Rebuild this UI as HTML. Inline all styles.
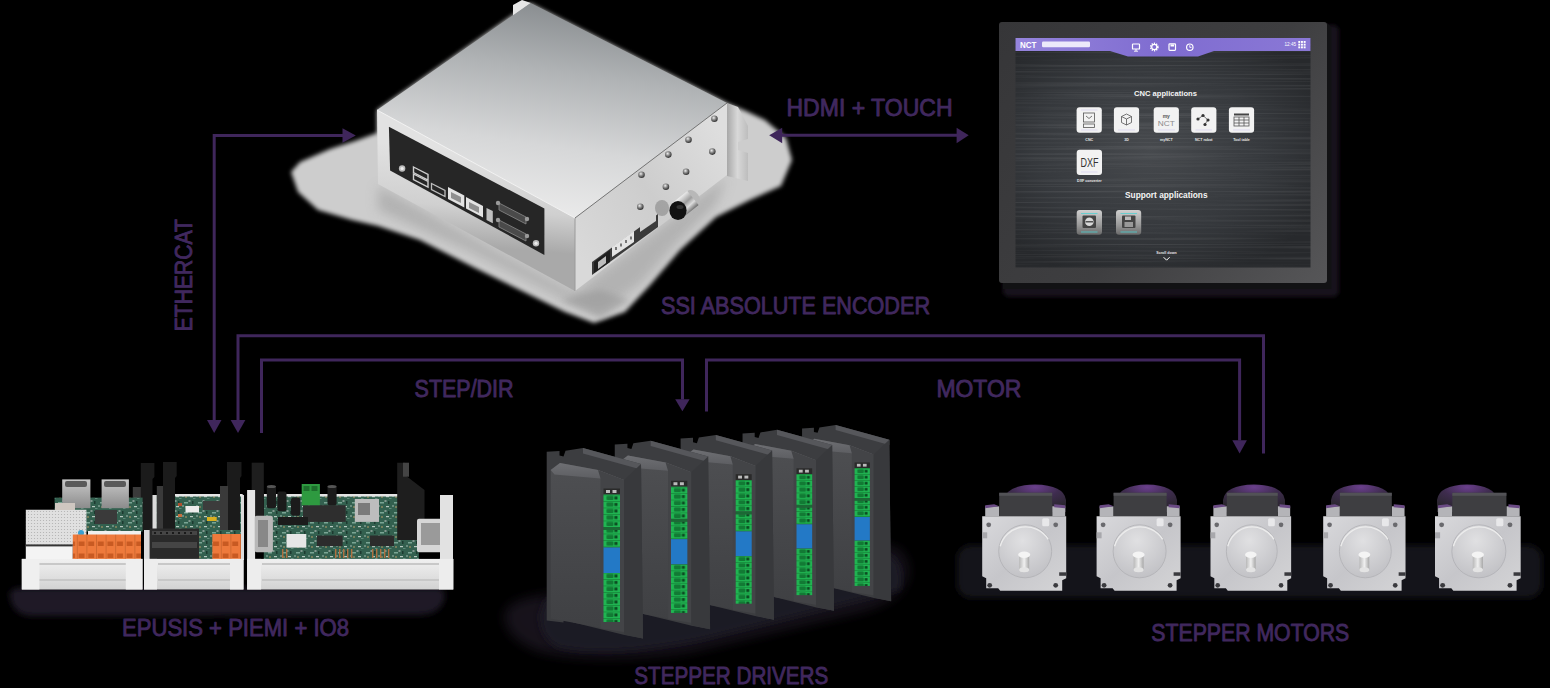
<!DOCTYPE html>
<html><head><meta charset="utf-8">
<style>
html,body{margin:0;padding:0;background:#000;}
body{width:1550px;height:688px;overflow:hidden;}
svg{display:block;}
.lbl{font-family:"Liberation Sans",sans-serif;font-size:23.5px;fill:#40285e;stroke:#40285e;stroke-width:0.9px;stroke-linejoin:round;}
.ln{stroke:#3f265b;stroke-width:3;fill:none;stroke-linecap:butt;}
.ah{fill:#3f265b;}
</style></head>
<body>
<svg width="1550" height="688" viewBox="0 0 1550 688">
<defs>
<linearGradient id="gTop" x1="530" y1="3" x2="500" y2="215" gradientUnits="userSpaceOnUse">
  <stop offset="0" stop-color="#8a8e91"/><stop offset="0.3" stop-color="#b0b3b5"/><stop offset="0.65" stop-color="#d6d7d8"/><stop offset="1" stop-color="#ececec"/></linearGradient>
<linearGradient id="gLeft" x1="470" y1="150" x2="462" y2="245" gradientUnits="userSpaceOnUse">
  <stop offset="0" stop-color="#e2e2e2"/><stop offset="0.6" stop-color="#d0d0d0"/><stop offset="1" stop-color="#a9a9a9"/></linearGradient>
<linearGradient id="gRight" x1="575" y1="250" x2="727" y2="140" gradientUnits="userSpaceOnUse">
  <stop offset="0" stop-color="#d9d9d9"/><stop offset="0.5" stop-color="#cdcdcd"/><stop offset="1" stop-color="#dedede"/></linearGradient>
<linearGradient id="gBr" x1="727" y1="0" x2="748" y2="0" gradientUnits="userSpaceOnUse">
  <stop offset="0" stop-color="#a8a8a8"/><stop offset="0.5" stop-color="#d8d8d8"/><stop offset="1" stop-color="#bdbdbd"/></linearGradient>
<radialGradient id="gScrew" cx="0.4" cy="0.35" r="0.6"><stop offset="0" stop-color="#f0f0f0"/><stop offset="0.5" stop-color="#8a8a8a"/><stop offset="1" stop-color="#3a3a3a"/></radialGradient>
<linearGradient id="gBezel" x1="999" y1="22" x2="1327" y2="283" gradientUnits="userSpaceOnUse">
  <stop offset="0" stop-color="#363638"/><stop offset="0.55" stop-color="#3e3e40"/><stop offset="1" stop-color="#565658"/></linearGradient>
<radialGradient id="gScreen" cx="1150" cy="150" r="190" gradientUnits="userSpaceOnUse" gradientTransform="translate(1150 150) scale(1 0.7) translate(-1150 -150)">
  <stop offset="0" stop-color="#474a4e"/><stop offset="0.6" stop-color="#36393d"/><stop offset="1" stop-color="#27292c"/></radialGradient>
<linearGradient id="gHead" x1="1016" y1="0" x2="1310" y2="0" gradientUnits="userSpaceOnUse">
  <stop offset="0" stop-color="#9584dc"/><stop offset="0.5" stop-color="#7f6cd0"/><stop offset="1" stop-color="#8a78d6"/></linearGradient>
<linearGradient id="gSup" x1="0" y1="0" x2="0" y2="1">
  <stop offset="0" stop-color="#d0d0d0"/><stop offset="0.6" stop-color="#9a9a9a"/><stop offset="1" stop-color="#6a6a6a"/></linearGradient>

<linearGradient id="gBase" x1="0" y1="0" x2="0" y2="1">
  <stop offset="0" stop-color="#f0f0f0"/><stop offset="0.5" stop-color="#e2e2e2"/><stop offset="1" stop-color="#d2d2d2"/></linearGradient>
<linearGradient id="gRJ" x1="0" y1="0" x2="0" y2="1"><stop offset="0" stop-color="#c8c8c8"/><stop offset="1" stop-color="#8c8c8c"/></linearGradient>
<pattern id="pDots" width="3" height="3" patternUnits="userSpaceOnUse"><rect width="3" height="3" fill="#e0e0e0"/><circle cx="1.5" cy="1.5" r="0.6" fill="#b0b0b0"/></pattern>
<pattern id="pOrange" width="9.6" height="12" patternUnits="userSpaceOnUse"><rect width="9.6" height="12" fill="#ee7a3c"/><rect x="1.8" y="1.5" width="6" height="4.5" fill="#c85a22"/><rect x="0" y="0" width="0.7" height="12" fill="#c4622c"/></pattern>
<pattern id="pPcb" width="14" height="10" patternUnits="userSpaceOnUse"><rect width="14" height="10" fill="#33604f"/><rect x="2" y="2" width="4" height="1.5" fill="#7aa594"/><rect x="8" y="6" width="3" height="1.2" fill="#b8c8c0"/><rect x="10" y="1" width="1.5" height="3" fill="#1d3a30"/><circle cx="4" cy="7" r="0.8" fill="#c9a46a"/><rect x="6.5" y="0.5" width="2" height="1" fill="#d0d0d0"/><rect x="0.5" y="5" width="1" height="2" fill="#9fb8ad"/><rect x="11" y="8" width="2.5" height="1" fill="#5f8a7a"/></pattern>
<linearGradient id="gDrvF" x1="0" y1="0" x2="0" y2="1"><stop offset="0" stop-color="#4e4f52"/><stop offset="1" stop-color="#3f4043"/></linearGradient>
<linearGradient id="gDrvTop" x1="0" y1="0" x2="0" y2="1"><stop offset="0" stop-color="#6e6f73"/><stop offset="1" stop-color="#5c5d61"/></linearGradient>
<pattern id="pGreen" width="16.5" height="6.5" patternUnits="userSpaceOnUse"><rect width="16.5" height="6.5" fill="#20b552"/><rect x="0" y="0" width="16.5" height="0.8" fill="#178a3c"/><rect x="3" y="1.4" width="7" height="4.2" rx="1" fill="#127a34"/><rect x="11" y="2" width="3" height="3" fill="#0b4a20"/></pattern>
<g id="drv">
  <polygon points="-56.8,-42.7 -44,-43.5 -44,-39 -40,-38 -38,-43.8 -20.5,-46.5 37.5,-30.5 39.5,144 21,140.5 -30,128 -40,123 -40,128 -56.8,126" fill="#3c3d40"/>
  <polygon points="-20.5,-46.5 37.5,-30.5 37.5,-25 -20.5,-41" fill="#56575b"/>
  <polygon points="-52.8,-24.5 -43.5,-31.5 -5.5,-24.5 20.5,-14.5 20.5,137.5 -52.8,124" fill="url(#gDrvF)"/>
  <polygon points="-52.8,-24.5 -43.5,-31.5 -5.5,-24.5 20.5,-14.5 -3,-16 -49,-20" fill="url(#gDrvTop)"/>
  <polygon points="-5.5,-24.5 20.5,-14.5 20.5,137.5 -3,134 -3,-16" fill="#434447"/>
  <polygon points="20.5,-14.5 37.5,-30.5 39.5,144 20.5,140" fill="#38393c"/>
  <rect x="0" y="-6" width="16.5" height="6" fill="#2a2a2a"/>
  <rect x="2.5" y="-4.5" width="4" height="3" fill="#bbb"/><rect x="9" y="-4.5" width="4" height="3" fill="#bbb"/>
  <rect x="0" y="0" width="16.5" height="32.5" fill="url(#pGreen)"/>
  <rect x="0" y="32.5" width="16.5" height="3" fill="#1a6a34"/>
  <rect x="0" y="35.5" width="16.5" height="17.5" fill="url(#pGreen)"/>
  <rect x="0" y="53" width="16.5" height="25.5" fill="#2379c6"/>
  <rect x="0" y="78.5" width="16.5" height="49" fill="url(#pGreen)"/>
</g>
<linearGradient id="gFlange" x1="0" y1="0" x2="1" y2="1"><stop offset="0" stop-color="#d9d9dc"/><stop offset="0.5" stop-color="#c6c6ca"/><stop offset="1" stop-color="#d4d4d6"/></linearGradient>
<radialGradient id="gDome" cx="0.5" cy="0.1" r="0.8"><stop offset="0" stop-color="#6a3f8c"/><stop offset="0.5" stop-color="#3e2c4e"/><stop offset="1" stop-color="#2a262e"/></radialGradient>
<linearGradient id="gShaft" x1="0" y1="0" x2="1" y2="0"><stop offset="0" stop-color="#b8b8b8"/><stop offset="0.5" stop-color="#f0f0f0"/><stop offset="1" stop-color="#a8a8a8"/></linearGradient>
<radialGradient id="gBoss" cx="0.45" cy="0.3" r="0.7"><stop offset="0" stop-color="#e0e0e2"/><stop offset="1" stop-color="#c2c2c6"/></radialGradient>
<g id="mot">
  <polygon points="3,-10 17,-10 17,0 3,0" fill="#b4b4b8"/>
  <polygon points="3,-11 12,-12 17,-10 3,-8" fill="#6a4a84"/>
  <polygon points="70,-10 83,-10 83,0 70,0" fill="#b4b4b8"/>
  <polygon points="72,-12 83,-11 83,-8 72,-9" fill="#6a4a84"/>
  <rect x="17" y="-23.5" width="53" height="23.5" fill="#3e3e41"/>
  <rect x="17" y="-23.5" width="53" height="3" fill="#525256"/>
  <path d="M0,0 H84 V62 L80,64 V74.5 H18 L16,72 H4 V62 L0,60 Z" fill="url(#gFlange)"/>
  <circle cx="43" cy="35" r="26.5" fill="url(#gBoss)" stroke="#b0b0b4" stroke-width="0.8"/>
  <path d="M18,30 A26.5,26.5 0 0 1 66,23" fill="none" stroke="#ececec" stroke-width="1.4"/>
  <circle cx="6.5" cy="8.5" r="2.4" fill="#6a6a6e"/><circle cx="73.5" cy="8.5" r="2.4" fill="#6a6a6e"/>
  <circle cx="7.5" cy="69" r="2.4" fill="#3a3a3e"/><circle cx="73.5" cy="69" r="2.4" fill="#3a3a3e"/>
  <rect x="60" y="2" width="7" height="8" rx="1.5" fill="#e8e8ea"/>
  <rect x="0" y="16" width="5" height="6" fill="#a8a8ac"/>
  <rect x="77" y="56" width="7" height="3.5" fill="#3a3a3e"/>
  <rect x="37" y="38.5" width="10" height="15" fill="url(#gShaft)"/>
  <ellipse cx="42" cy="38.5" rx="6" ry="3.2" fill="#f4f4f4"/>
  <ellipse cx="42" cy="53.5" rx="5" ry="2.5" fill="#e4e4e4"/>
</g>
<linearGradient id="gKnob" x1="679" y1="197" x2="692" y2="211" gradientUnits="userSpaceOnUse"><stop offset="0" stop-color="#f4f4f4"/><stop offset="0.45" stop-color="#9c9c9c"/><stop offset="0.7" stop-color="#dcdcdc"/><stop offset="1" stop-color="#6c6c6c"/></linearGradient>
<filter id="fBrush" x="0" y="0" width="100%" height="100%" color-interpolation-filters="sRGB">
  <feTurbulence type="fractalNoise" baseFrequency="0.004 0.45" numOctaves="2" seed="7" result="n"/>
  <feColorMatrix in="n" type="matrix" values="0 0 0 0 1  0 0 0 0 1  0 0 0 0 1  0.9 0 0 0 -0.42" result="w"/>
  <feComposite in="w" in2="SourceGraphic" operator="in"/>
</filter>
<filter id="blur2" x="-50%" y="-50%" width="200%" height="200%"><feGaussianBlur stdDeviation="2"/></filter>
<filter id="blur3" x="-50%" y="-50%" width="200%" height="200%"><feGaussianBlur stdDeviation="3"/></filter>
<filter id="blur6" x="-50%" y="-50%" width="200%" height="200%"><feGaussianBlur stdDeviation="6"/></filter>
<filter id="blur4" x="-50%" y="-50%" width="200%" height="200%"><feGaussianBlur stdDeviation="4"/></filter>
<filter id="blur8" x="-50%" y="-50%" width="200%" height="200%"><feGaussianBlur stdDeviation="8"/></filter>
<filter id="blur12" x="-50%" y="-50%" width="200%" height="200%"><feGaussianBlur stdDeviation="12"/></filter>
</defs>
<!--SHADOWS-->
<g id="boxhalo">
  <polygon points="291,172 300,162 330,149 355,141 377,133 377,110 530,3 727,103 748,112 765,120 786,138 792,160 781,186 750,200 716,217 680,250 650,285 625,312 594,323 565,312 520,290 475,268 420,240 378,226 352,220 318,210 298,192" fill="#cdcdcd" filter="url(#blur2)"/>
  <polygon points="378,186 575,292 727,176 716,205 680,240 640,285 600,312 560,298 470,252 378,210" fill="#a9a9a9" opacity="0.75" filter="url(#blur6)"/>
  <polygon points="560,300 600,318 630,300 600,290" fill="#999" opacity="0.6" filter="url(#blur3)"/>
</g>
<g id="box">
  <polygon points="513,16 513,5 522,0 531,3" fill="#e6e6e6"/>
  <polygon points="377,110 530.6,3 727,103 575,218" fill="url(#gTop)"/>
  <polygon points="377,110 575,218 575,291 378,184" fill="url(#gLeft)"/>
  <polygon points="575,218 727,103 727,175 575,291" fill="url(#gRight)"/>
  <polygon points="727,103 738,107 748,126 748,139 738,142 738,150 748,153 748,181 727,176" fill="url(#gBr)"/>
  <line x1="575" y1="218" x2="575" y2="291" stroke="#9a9a9a" stroke-width="1"/>
  <line x1="377" y1="110" x2="575" y2="218" stroke="#f2f2f2" stroke-width="1"/>
  <line x1="575" y1="218" x2="727" y2="103" stroke="#5a5a5a" stroke-width="0.8"/>
  <polygon points="388.9,126.7 544.4,208.5 544.4,254.9 390.1,170.6" fill="#262626"/>
  <circle cx="402.1" cy="168.5" r="3.2" fill="#bdbdbd"/><circle cx="402.1" cy="168.5" r="1.6" fill="#eee"/>
  <circle cx="536" cy="243.3" r="3.2" fill="#bdbdbd"/><circle cx="536" cy="243.3" r="1.6" fill="#eee"/>
  <polygon points="413.5,167 428,174.5 428,180 413.5,172.5" fill="none" stroke="#cfcfcf" stroke-width="1.4"/>
  <polygon points="413.5,174 428,181.5 428,187 413.5,179.5" fill="none" stroke="#cfcfcf" stroke-width="1.4"/>
  <polygon points="431.5,183.5 445,190.5 445,196.5 431.5,189.5" fill="none" stroke="#bdbdbd" stroke-width="1.3"/>
  <polygon points="448,187 464.3,195.5 464.3,207.5 448,199" fill="#e3e3e3"/>
  <polygon points="451,192 461,197 461,203 451,198" fill="#8f8f8f"/>
  <polygon points="466,197 483,206 483,217.5 466,208.5" fill="#e3e3e3"/>
  <polygon points="469,202 479,207 479,213 469,208" fill="#8f8f8f"/>
  <polygon points="486.5,208 492.8,211 492.8,223.3 486.5,220" fill="#bfbfbf"/>
  <polygon points="499,203 526,217 526,224 499,210" fill="#4a4a4a" stroke="#8a8a8a" stroke-width="0.8"/>
  <polygon points="499,220 526,234 526,241 499,227" fill="#4a4a4a" stroke="#8a8a8a" stroke-width="0.8"/>
  <circle cx="498" cy="203" r="2.2" fill="#9a9a9a"/><circle cx="527" cy="219" r="2.2" fill="#9a9a9a"/>
  <circle cx="498" cy="220" r="2.2" fill="#9a9a9a"/><circle cx="527" cy="236" r="2.2" fill="#9a9a9a"/>
  <g fill="url(#gScrew)">
    <circle cx="714.4" cy="118.8" r="3.3"/><circle cx="688.5" cy="139.7" r="3.3"/><circle cx="712.3" cy="151.6" r="3.3"/>
    <circle cx="668.3" cy="154.6" r="3.3"/><circle cx="686.1" cy="171.8" r="3.3"/><circle cx="641.5" cy="174.8" r="3.3"/>
    <circle cx="665.9" cy="186.7" r="3.3"/><circle cx="640.3" cy="206.7" r="3.3"/>
  </g>
  <ellipse cx="662" cy="208" rx="7" ry="8" fill="#7a7a7a" opacity="0.5"/>
  <ellipse cx="693" cy="198" rx="9" ry="6" transform="rotate(52 693 198)" fill="#b8b8b8"/>
  <polygon points="687.4,191 698.6,205 683.6,217 672.4,203" fill="url(#gKnob)"/>
  <ellipse cx="678" cy="210.5" rx="8.6" ry="9.6" fill="#121212"/>
  <ellipse cx="680" cy="207" rx="3.5" ry="2" fill="#333"/>
  <polygon points="592,262 658,214 658,227 592,275" fill="#3a3a3a"/>
  <polygon points="594,262 610,250 610,262 594,273" fill="#1e1e1e"/>
  <polygon points="612,247 634,231 634,242 612,257" fill="#e4e4e4"/>
  <g fill="#777"><rect x="615" y="247" width="2" height="3"/><rect x="620" y="243.5" width="2" height="3"/><rect x="625" y="240" width="2" height="3"/><rect x="630" y="236.5" width="2" height="3"/></g>
  <polygon points="640,224 656,213 656,221 640,232" fill="#cfcfcf"/>
  <polygon points="598,262 606,256 606,263 598,269" fill="#bdbdbd"/>
</g>

<g id="monitorshadow">
  <path d="M1003,283 L1003,293 Q1005,297 1012,297 L1332,297 Q1339,297 1339,290 L1339,32 Q1339,25 1333,25 L1327,25 Z" fill="#1d1822" opacity="0.85" filter="url(#blur2)"/>
  <path d="M1003,283 L1003,289 L1331.5,289 L1331.5,27 L1327,23 Z" fill="#121214"/>
</g>
<g id="monitor">
  <rect x="999" y="22" width="328" height="261" rx="3" fill="url(#gBezel)"/>
  <rect x="1015.5" y="38" width="295" height="229.5" fill="url(#gScreen)"/>
  <rect x="1015.5" y="38" width="295" height="229.5" fill="#000" filter="url(#fBrush)" opacity="0.25"/>
  <polygon points="1015.5,38 1310.5,38 1310.5,51 1214,51 1198,56.6 1128,56.6 1110,51 1015.5,51" fill="url(#gHead)"/>
  <text x="1020" y="48.3" font-family="Liberation Sans" font-weight="bold" font-size="9.5" fill="#fff" textLength="16.5" lengthAdjust="spacingAndGlyphs">NCT</text>
  <rect x="1042" y="41.5" width="48" height="5.8" rx="1.2" fill="#ece9fa"/>
  <g fill="none" stroke="#fff" stroke-width="1.2">
    <rect x="1132.5" y="44" width="7" height="5" rx="0.6"/>
    <circle cx="1154.3" cy="47" r="2.6"/>
    <rect x="1169" y="43.8" width="6.5" height="6.5" rx="0.8"/>
    <circle cx="1189.8" cy="47.2" r="3.2"/>
  </g>
  <circle cx="1154.3" cy="47" r="3.6" fill="none" stroke="#fff" stroke-width="1.6" stroke-dasharray="1.2 1.1"/>
  <line x1="1136" y1="49" x2="1136" y2="51" stroke="#fff" stroke-width="1"/>
  <line x1="1134" y1="51.2" x2="1138" y2="51.2" stroke="#fff" stroke-width="0.9"/>
  <rect x="1170.5" y="44.5" width="3.6" height="2" fill="#fff"/>
  <path d="M1189.8,45.2 V47.4 H1191.5" stroke="#fff" stroke-width="0.9" fill="none"/>
  <text x="1284.5" y="46.3" font-family="Liberation Sans" font-size="4.6" fill="#fff">12:45</text>
  <g fill="#fff">
    <rect x="1298.3" y="41" width="1.9" height="1.9"/><rect x="1301" y="41" width="1.9" height="1.9"/><rect x="1303.7" y="41" width="1.9" height="1.9"/>
    <rect x="1298.3" y="43.7" width="1.9" height="1.9"/><rect x="1301" y="43.7" width="1.9" height="1.9"/><rect x="1303.7" y="43.7" width="1.9" height="1.9"/>
    <rect x="1298.3" y="46.4" width="1.9" height="1.9"/><rect x="1301" y="46.4" width="1.9" height="1.9"/><rect x="1303.7" y="46.4" width="1.9" height="1.9"/>
  </g>
  <text x="1165.5" y="95.5" text-anchor="middle" font-family="Liberation Sans" font-weight="bold" font-size="7.6" fill="#f4f4f4">CNC applications</text>
  <g fill="#f2f2f2">
    <rect x="1076.6" y="107.3" width="25.2" height="25.5" rx="3"/>
    <rect x="1113.9" y="107.3" width="25.2" height="25.5" rx="3"/>
    <rect x="1153.7" y="107.3" width="25.2" height="25.5" rx="3"/>
    <rect x="1191.2" y="107.3" width="25.2" height="25.5" rx="3"/>
    <rect x="1228.9" y="107.3" width="25.2" height="25.5" rx="3"/>
    <rect x="1076.7" y="149.8" width="25.3" height="25.1" rx="3"/>
  </g>
  <g stroke="#d6d0f0" stroke-width="0.7">
    <line x1="1081" y1="110" x2="1097.5" y2="110"/><line x1="1081" y1="130" x2="1097.5" y2="130"/>
    <line x1="1118" y1="130" x2="1135" y2="130"/><line x1="1158" y1="130" x2="1175" y2="130"/>
    <line x1="1195.5" y1="130" x2="1212" y2="130"/><line x1="1233" y1="130" x2="1250" y2="130"/>
    <line x1="1081" y1="172" x2="1097.5" y2="172"/>
  </g>
  <g fill="none" stroke="#555" stroke-width="0.8">
    <rect x="1083.5" y="113" width="11" height="9"/><polyline points="1086,116 1089,118.5 1092,116"/><rect x="1083.5" y="124" width="11" height="3.5"/>
    <polygon points="1126.5,114 1131.5,116.5 1131.5,122.5 1126.5,125 1121.5,122.5 1121.5,116.5"/><polyline points="1121.5,116.5 1126.5,119 1131.5,116.5"/><line x1="1126.5" y1="119" x2="1126.5" y2="125"/>
    <polyline points="1198,119 1203,115.5 1208,120 1205,124"/>
    <rect x="1234" y="117" width="15" height="9"/><line x1="1234" y1="120" x2="1249" y2="120"/><line x1="1234" y1="123" x2="1249" y2="123"/><line x1="1239" y1="117" x2="1239" y2="126"/><line x1="1244" y1="117" x2="1244" y2="126"/>
  </g>
  <rect x="1234" y="113.5" width="15" height="2" fill="#444"/>
  <circle cx="1198" cy="119" r="1.6" fill="#333"/><circle cx="1203" cy="115.5" r="1.6" fill="#333"/><circle cx="1208" cy="120" r="1.6" fill="#333"/><circle cx="1205" cy="124.5" r="1.6" fill="#333"/>
  <text x="1166.3" y="126" text-anchor="middle" font-family="Liberation Sans" font-size="8" fill="#8a8a8a" textLength="17" lengthAdjust="spacingAndGlyphs">NCT</text>
  <text x="1166.3" y="117.5" text-anchor="middle" font-family="Liberation Sans" font-weight="bold" font-size="5" fill="#555">my</text>
  <text x="1089.4" y="167.3" text-anchor="middle" font-family="Liberation Sans" font-size="12.5" fill="#333" textLength="18" lengthAdjust="spacingAndGlyphs">DXF</text>
  <g font-family="Liberation Sans" font-weight="bold" font-size="3.6" fill="#e8e8e8" text-anchor="middle">
    <text x="1089.2" y="141.2">CNC</text><text x="1126.5" y="141.2">3D</text><text x="1166.3" y="141.2">myNCT</text>
    <text x="1203.8" y="141.2">NCT robot</text><text x="1241.5" y="141.2">Tool table</text><text x="1089.4" y="182.4">DXF converter</text>
    <text x="1166.5" y="254">Scroll down</text>
  </g>
  <polyline points="1163.6,257.2 1166.6,260.2 1169.6,257.2" fill="none" stroke="#fff" stroke-width="1"/>
  <text x="1166.3" y="198.4" text-anchor="middle" font-family="Liberation Sans" font-weight="bold" font-size="8.3" fill="#f4f4f4">Support applications</text>
  <rect x="1076.7" y="210" width="25.3" height="24.8" rx="3" fill="url(#gSup)"/>
  <rect x="1116" y="210" width="25.2" height="24.8" rx="3" fill="url(#gSup)"/>
  <g stroke="#4fd0d0" stroke-width="0.8"><line x1="1081" y1="213.5" x2="1097.5" y2="213.5"/><line x1="1120.5" y1="213.5" x2="1137" y2="213.5"/><line x1="1081" y1="232" x2="1097.5" y2="232"/><line x1="1120.5" y1="232" x2="1137" y2="232"/></g>
  <rect x="1082.5" y="215.5" width="13.5" height="12.5" rx="1" fill="#444"/><circle cx="1089.3" cy="221.8" r="4.3" fill="#d8d8d8"/><line x1="1085.5" y1="221.8" x2="1093" y2="221.8" stroke="#333" stroke-width="1.2"/>
  <rect x="1122" y="215.5" width="13.5" height="12.5" rx="1" fill="#444"/><rect x="1124.5" y="222" width="8.5" height="5" fill="#999"/><rect x="1125" y="216.5" width="6" height="3.5" fill="#bbb"/>
</g>

<!--LINES-->
<g id="lines">
  <path class="ln" d="M214.2,420 V135.5 H343"/>
  <polygon class="ah" points="207,420 221.5,420 214.2,433"/>
  <polygon class="ah" points="342.5,128.2 342.5,142.8 355.8,135.5"/>
  <path class="ln" d="M238,420 V335.8 H1263.5 V453.5"/>
  <polygon class="ah" points="230.6,420 245.4,420 238,433"/>
  <path class="ln" d="M261.5,433 V360 H682.5 V399.5"/>
  <polygon class="ah" points="675.2,399.3 689.6,399.3 682.4,411.3"/>
  <path class="ln" d="M706.5,411.5 V360 H1239.6 V440.5"/>
  <polygon class="ah" points="1232.3,440.3 1246.9,440.3 1239.6,453.4"/>
  <path class="ln" d="M782,135.3 H957"/>
  <polygon class="ah" points="782.2,127.8 782.2,143.2 769.2,135.3"/>
  <polygon class="ah" points="956.6,127.8 956.6,143.2 968.7,135.3"/>
</g>
<g id="labels">
  <text class="lbl" x="786.5" y="115.5" textLength="166" lengthAdjust="spacingAndGlyphs">HDMI + TOUCH</text>
  <text class="lbl" x="661" y="314.3" textLength="269" lengthAdjust="spacingAndGlyphs">SSI ABSOLUTE ENCODER</text>
  <text class="lbl" x="414.6" y="396.9" textLength="99" lengthAdjust="spacingAndGlyphs">STEP/DIR</text>
  <text class="lbl" x="936.4" y="396.6" textLength="85" lengthAdjust="spacingAndGlyphs">MOTOR</text>
  <text class="lbl" x="122" y="636" textLength="227" lengthAdjust="spacingAndGlyphs">EPUSIS + PIEMI + IO8</text>
  <text class="lbl" x="634.3" y="684" textLength="194" lengthAdjust="spacingAndGlyphs">STEPPER DRIVERS</text>
  <text class="lbl" x="1151.3" y="640.5" textLength="198" lengthAdjust="spacingAndGlyphs">STEPPER MOTORS</text>
  <text class="lbl" transform="translate(191.8,331.2) rotate(-90)" x="0" y="0" textLength="112" lengthAdjust="spacingAndGlyphs">ETHERCAT</text>
</g>
<g id="boardshadow">
  <path d="M10,596 Q8,589 20,588 L440,588 Q446,590 444,600 Q440,614 420,615 L30,616 Q12,614 10,596 Z" fill="#231a2c" opacity="0.92" filter="url(#blur3)"/>
</g>
<g id="boards">
  <!-- module 3 -->
  <rect x="263.8" y="496" width="155" height="64" fill="url(#pPcb)"/>
  <rect x="263.8" y="494" width="135" height="2.5" fill="#e4e4e4"/>
  <rect x="303" y="505.2" width="42.7" height="16.7" fill="#2e2e2e"/>
  <rect x="316.9" y="535.5" width="25.7" height="10.6" fill="#2c2c2c"/>
  <rect x="370" y="535.5" width="24" height="10.6" fill="#2c2c2c"/>
  <rect x="286.5" y="534" width="19.8" height="13.6" fill="#e6e6e6"/>
  <rect x="354.8" y="499" width="24.2" height="22.9" fill="#bdbdbd"/>
  <rect x="358" y="503" width="12" height="12" fill="#7a7a7a"/>
  <rect x="278" y="517" width="30" height="8" fill="#1c1c1c"/>
  <g fill="#b07040"><rect x="282" y="549" width="1.4" height="9"/><rect x="286" y="549" width="1.4" height="9"/><rect x="335" y="549" width="1.4" height="9"/><rect x="339" y="549" width="1.4" height="9"/><rect x="343" y="549" width="1.4" height="9"/><rect x="347" y="549" width="1.4" height="9"/><rect x="351" y="549" width="1.4" height="9"/><rect x="372" y="549" width="1.4" height="9"/><rect x="376" y="549" width="1.4" height="9"/><rect x="380" y="549" width="1.4" height="9"/><rect x="384" y="549" width="1.4" height="9"/><rect x="388" y="549" width="1.4" height="9"/></g>
  <rect x="301.7" y="484" width="18.2" height="21.2" fill="#2e9a40"/>
  <rect x="303.5" y="486" width="6" height="5" fill="#1d6e2c"/><rect x="311.5" y="486" width="6" height="5" fill="#1d6e2c"/>
  <rect x="266.8" y="485.5" width="9.2" height="22.7" rx="2" fill="#1b1b1b"/>
  <rect x="277.4" y="491.5" width="9.1" height="19.8" rx="2" fill="#1b1b1b"/>
  <rect x="291" y="497.6" width="9.2" height="18.2" rx="2" fill="#1b1b1b"/>
  <rect x="327.5" y="485.5" width="9.1" height="19.7" rx="2" fill="#1b1b1b"/>
  <ellipse cx="271.4" cy="486.5" rx="4.6" ry="1.6" fill="#555"/><ellipse cx="332" cy="486.5" rx="4.6" ry="1.6" fill="#555"/>
  <rect x="251.7" y="462.7" width="12.1" height="68" fill="#1e1e1e"/>
  <rect x="247.1" y="490" width="8" height="70" fill="#e6e6e6"/>
  <rect x="254.7" y="515.8" width="18.2" height="36.4" rx="2" fill="#b8b8b8"/>
  <rect x="258" y="520" width="10" height="27" fill="#888"/>
  <polygon points="397.2,462.7 405,462.7 405,475 424.5,490 424.5,540 397.2,540" fill="#1e1e1e"/>
  <rect x="403" y="462.7" width="6" height="14" fill="#444"/>
  <rect x="417" y="518.8" width="30.2" height="33.4" rx="2" fill="#d6d6d6"/>
  <rect x="421" y="523" width="20" height="22" fill="#9a9a9a"/>
  <rect x="440" y="495" width="13" height="65" fill="#e2e2e2"/>
  <rect x="247.1" y="558.9" width="206.2" height="30.6" fill="url(#gBase)"/>
  <rect x="262" y="563" width="178" height="2" fill="#c8c8c8"/><rect x="262" y="579" width="178" height="2" fill="#c8c8c8"/>
  <rect x="247.1" y="558.9" width="14" height="30.6" fill="#ededed"/><rect x="439" y="558.9" width="14.3" height="30.6" fill="#ededed"/>
  <!-- module 2 -->
  <rect x="144" y="495" width="100" height="65" fill="url(#pPcb)"/>
  <rect x="144" y="495" width="12.8" height="65" fill="#dcdcdc"/>
  <rect x="241" y="495" width="3" height="65" fill="#dcdcdc"/>
  <rect x="172.7" y="494" width="70" height="2.5" fill="#e6e6e6"/>
  <rect x="185.5" y="506" width="13.5" height="6.5" fill="#ececec"/>
  <rect x="207" y="517" width="9.7" height="4" fill="#d8b020"/>
  <rect x="203" y="501" width="21" height="9" fill="#3c3c3c"/>
  <rect x="178" y="503" width="4" height="3" fill="#b05030"/><rect x="178" y="514" width="4" height="3" fill="#c87040"/>
  <rect x="156.8" y="486" width="11.2" height="44" fill="#3a3a3a"/>
  <polygon points="163,462 176.7,462 176.7,476 175,478 175,530 163,530" fill="#1b1b1b"/>
  <rect x="132.8" y="487" width="11.2" height="43" fill="#3a3a3a"/>
  <polygon points="140.8,463 154.4,463 154.4,477 152.5,479 152.5,530 140.8,530" fill="#1b1b1b"/>
  <polygon points="227,462 241.5,462 241.5,476 240,478 240,530 227,530" fill="#1b1b1b"/>
  <rect x="220" y="486" width="8" height="44" fill="#3a3a3a"/>
  <rect x="149.6" y="528.5" width="49.4" height="31" fill="#2a2a2a"/>
  <g fill="#454545"><rect x="152" y="531" width="45" height="4"/><rect x="152" y="542" width="45" height="6"/></g>
  <g fill="#1a1a1a"><rect x="154" y="532" width="2" height="2"/><rect x="160" y="532" width="2" height="2"/><rect x="166" y="532" width="2" height="2"/><rect x="172" y="532" width="2" height="2"/><rect x="178" y="532" width="2" height="2"/><rect x="184" y="532" width="2" height="2"/><rect x="190" y="532" width="2" height="2"/></g>
  <rect x="212.3" y="534" width="28.7" height="25.8" fill="url(#pOrange)"/>
  <rect x="144" y="558.9" width="99.5" height="30.6" fill="url(#gBase)"/>
  <rect x="158" y="563" width="72" height="2" fill="#c8c8c8"/><rect x="158" y="579" width="72" height="2" fill="#c8c8c8"/>
  <rect x="144" y="558.9" width="13" height="30.6" fill="#ededed"/><rect x="230" y="558.9" width="13.5" height="30.6" fill="#ededed"/>
  <!-- module 1 -->
  <rect x="54.6" y="497.6" width="88" height="34" fill="url(#pPcb)"/>
  <rect x="95" y="510" width="22" height="14" fill="#3a3a3a"/>
  <rect x="62.2" y="479.4" width="28.2" height="28.8" fill="url(#gRJ)"/>
  <rect x="65" y="481" width="22" height="6" rx="2" fill="#5a5a5a"/>
  <rect x="101.6" y="479.4" width="27.3" height="28.8" fill="url(#gRJ)"/>
  <rect x="104" y="481" width="22" height="6" rx="2" fill="#5a5a5a"/>
  <polygon points="25.8,509.7 86.4,509.7 86.4,544.6 25.8,544.6" fill="url(#pDots)"/>
  <rect x="55" y="503" width="20" height="7" fill="#cfc7c0"/>
  <rect x="25.8" y="544.6" width="47" height="15.2" fill="#f4f4f4"/>
  <rect x="25.8" y="544.6" width="47" height="1.8" fill="#333"/>
  <rect x="88" y="531" width="53" height="5" fill="#f0f0f0"/>
  <circle cx="81" cy="533" r="3" fill="#3aa0d0"/>
  <rect x="72.8" y="534.5" width="68.2" height="25.3" fill="url(#pOrange)"/>
  <rect x="21.8" y="558.9" width="120.7" height="30.6" fill="url(#gBase)"/>
  <rect x="38" y="563" width="88" height="2" fill="#c8c8c8"/><rect x="38" y="579" width="88" height="2" fill="#c8c8c8"/>
  <rect x="21.8" y="558.9" width="17.6" height="30.6" fill="#efefef"/><rect x="125.8" y="558.9" width="16.7" height="30.6" fill="#efefef"/>
</g>

<g id="drivershadow">
  <path d="M505,620 Q500,600 545,595 L880,545 Q910,545 908,575 Q905,600 860,612 L690,652 Q600,665 540,652 Q508,640 505,620 Z" fill="#2a2233" opacity="0.55" filter="url(#blur6)"/>
  <path d="M540,615 L545,600 L890,555 Q905,565 900,590 L700,640 Q610,658 560,648 Q540,640 540,615 Z" fill="#1f1a26" opacity="0.9" filter="url(#blur3)"/>
</g>
<g id="drivers">
  <use href="#drv" transform="translate(854.6,468) scale(0.925)"/>
  <use href="#drv" transform="translate(796.5,474) scale(0.95)"/>
  <use href="#drv" transform="translate(735.7,480) scale(0.97)"/>
  <use href="#drv" transform="translate(671,486.7) scale(0.99)"/>
  <use href="#drv" transform="translate(603.5,494.5)"/>
</g>

<g id="motorshadow">
  <rect x="957" y="545" width="585" height="53" rx="14" fill="#17141b" opacity="0.93" filter="url(#blur3)"/>
</g>
<g id="motors">
  <g fill="url(#gDome)">
    <path d="M1004,512 L1004,500 Q1006,485 1035,484.5 Q1064,485 1066,500 L1066,512 Z"/>
    <path d="M1117,512 L1117,500 Q1119,485 1147,484.5 Q1175,485 1177,500 L1177,512 Z"/>
    <path d="M1223,512 L1223,500 Q1225,485 1254,484.5 Q1283,485 1285,500 L1285,512 Z"/>
    <path d="M1331,512 L1331,500 Q1333,485 1361,484.5 Q1389,485 1391,500 L1391,512 Z"/>
    <path d="M1437,512 L1437,500 Q1439,485 1467,484.5 Q1495,485 1497,500 L1497,512 Z"/>
  </g>
  <use href="#mot" transform="translate(982.2,516.3)"/>
  <use href="#mot" transform="translate(1096.6,516.3)"/>
  <use href="#mot" transform="translate(1210.5,516.3) scale(0.96,1)"/>
  <use href="#mot" transform="translate(1323.2,516.3) scale(0.98,1)"/>
  <use href="#mot" transform="translate(1435,516.3) scale(1.02,1)"/>
</g>

</svg>
</body></html>
